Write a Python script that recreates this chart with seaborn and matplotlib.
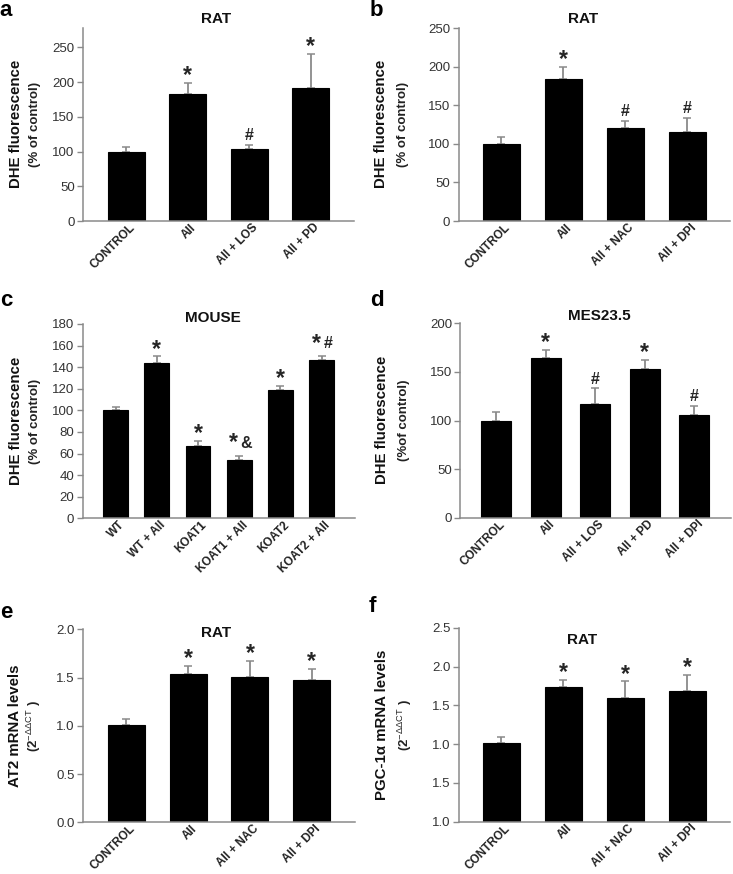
import numpy as np
import pandas as pd
import matplotlib
matplotlib.use("Agg")
import matplotlib.pyplot as plt
import matplotlib.transforms as mtrans
import seaborn as sns

sns.set_theme(style="white")
plt.rcParams["font.family"] = ["Liberation Sans", "DejaVu Sans"]
plt.rcParams["mathtext.fontset"] = "custom"
plt.rcParams["mathtext.rm"] = "Liberation Sans"
plt.rcParams["mathtext.it"] = "Liberation Sans:italic"
plt.rcParams["mathtext.bf"] = "Liberation Sans:bold"

# ---------------- data ----------------
a_labels = ["CONTROL", "AII", "AII + LOS", "AII + PD"]
a_values = [100, 183, 103, 191]
a_errtop = [106, 199, 110, 241]
a_marks = ["", "*", "#", "*"]

b_labels = ["CONTROL", "AII", "AII + NAC", "AII + DPI"]
b_values = [100, 184, 121, 115]
b_errtop = [109, 200, 130, 134]
b_marks = ["", "*", "#", "#"]

c_labels = ["WT", "WT + AII", "KOAT1", "KOAT1 + AII", "KOAT2", "KOAT2 + AII"]
c_values = [100, 144, 67, 54, 119, 147]
c_errtop = [103, 150, 72, 58, 122.5, 150.5]
c_marks = ["", "*", "*", "*&", "*", "*#"]

d_labels = ["CONTROL", "AII", "AII + LOS", "AII + PD", "AII + DPI"]
d_values = [100, 164, 117, 152.5, 105.5]
d_errtop = [109, 173, 133, 162.5, 115]
d_marks = ["", "*", "#", "*", "#"]

e_labels = ["CONTROL", "AII", "AII + NAC", "AII + DPI"]
e_values = [1.01, 1.54, 1.51, 1.47]
e_errtop = [1.07, 1.62, 1.67, 1.59]
e_marks = ["", "*", "*", "*"]

f_labels = ["CONTROL", "AII", "AII + NAC", "AII + DPI"]
f_values = [1.02, 1.74, 1.59, 1.68]
f_errtop = [1.09, 1.83, 1.81, 1.89]
f_marks = ["", "*", "*", "*"]
f_ticklabels = ["1.0", "1.5", "1.0", "1.5", "2.0", "2.5"]

# ---------------- layout ----------------
W, H = 733, 874
fig = plt.figure(figsize=(W / 100, H / 100), dpi=100)
fig.patch.set_facecolor("white")


def fx(x):
    return x / W


def fy(y):
    return 1 - y / H


def add_ax(l, t, r, b):
    return fig.add_axes([l / W, 1 - b / H, (r - l) / W, (b - t) / H])


GRAY = "#8a8a8a"


def draw(ax, labels, values, errtop, marks, ylim, yticks, xlim, ytlabels=None):
    df = pd.DataFrame({"group": labels, "value": values})
    sns.barplot(data=df, x="group", y="value", order=labels, color="black",
                saturation=1, width=0.6, errorbar=None, edgecolor="black",
                linewidth=0.8, ax=ax, zorder=2)
    x = np.arange(len(labels))
    vals = np.asarray(values, dtype=float)
    err = np.asarray(errtop, dtype=float) - vals
    ax.errorbar(x, vals, yerr=[np.zeros_like(err), err], fmt="none",
                ecolor=GRAY, elinewidth=1.3, capsize=2.6, capthick=1.1,
                zorder=1)
    for i, m in enumerate(marks):
        if not m:
            continue
        if len(m) == 1:
            if m == "*":
                ax.annotate("*", (x[i], errtop[i]), xytext=(0, 0.5),
                            textcoords="offset points", ha="center",
                            va="baseline", fontsize=16.5, fontweight="bold")
            else:
                ax.annotate(m, (x[i], errtop[i]), xytext=(0, 3.5),
                            textcoords="offset points", ha="center",
                            va="baseline", fontsize=11.5, fontweight="bold")
        else:
            ax.annotate("*", (x[i], errtop[i]), xytext=(-4.0, 4.5),
                        textcoords="offset points", ha="center",
                        va="baseline", fontsize=16.5, fontweight="bold")
            ax.annotate(m[1], (x[i], errtop[i]), xytext=(4.8, 5.5),
                        textcoords="offset points", ha="center",
                        va="baseline", fontsize=11.5, fontweight="bold")
    ax.set_ylim(*ylim)
    ax.set_xlim(*xlim)
    ax.set_yticks(yticks)
    if ytlabels is not None:
        ax.set_yticklabels(ytlabels)
    ax.set_xlabel("")
    ax.set_ylabel("")
    for s in ["top", "right"]:
        ax.spines[s].set_visible(False)
    for s in ["left", "bottom"]:
        ax.spines[s].set_color(GRAY)
        ax.spines[s].set_linewidth(1.1)
    ax.tick_params(axis="y", direction="out", length=4, width=1,
                   color=GRAY, labelsize=9.5, labelcolor="#333333", pad=2,
                   left=True)
    ax.tick_params(axis="x", length=0, pad=3.5, bottom=False)
    off = mtrans.ScaledTranslation(5 / 72, 0, fig.dpi_scale_trans)
    for lab in ax.get_xticklabels():
        lab.set_rotation(45)
        lab.set_ha("right")
        lab.set_va("center")
        lab.set_rotation_mode("anchor")
        lab.set_fontsize(8.5)
        lab.set_fontweight("bold")
        lab.set_color("#222222")
        lab.set_transform(lab.get_transform() + off)
    ax.grid(False)
    ax.set_facecolor("white")


def ylab(x1, x2, yc, line1, line2, s2=9.5):
    fig.text(fx(x1), fy(yc), line1, rotation=90, ha="center", va="center",
             fontsize=10.8, fontweight="bold", color="#111111")
    fig.text(fx(x2), fy(yc), line2, rotation=90, ha="center", va="center",
             fontsize=s2, fontweight="bold", color="#222222")


def title(x, y, s):
    fig.text(fx(x), fy(y), s, ha="center", va="center", fontsize=11,
             fontweight="bold", color="#111111")


def letter(x, y, s):
    fig.text(fx(x), fy(y), s, ha="center", va="center", fontsize=16,
             fontweight="bold", color="black")


# panel a
ax = add_ax(83, 28, 354, 221)
draw(ax, a_labels, a_values, a_errtop, a_marks, (0, 278),
     [0, 50, 100, 150, 200, 250], (-0.7, 3.7))
ylab(16, 35, 124, "DHE fluorescence", "(% of control)")
title(216, 19, "RAT")
letter(6, 11, "a")

# panel b
ax = add_ax(458.7, 28.3, 730, 221)
draw(ax, b_labels, b_values, b_errtop, b_marks, (0, 250),
     [0, 50, 100, 150, 200, 250], (-0.69, 3.69))
ylab(381, 403, 124, "DHE fluorescence", "(% of control)")
title(583, 19, "RAT")
letter(376, 10, "b")

# panel c
ax = add_ax(82.7, 324, 355, 518.3)
draw(ax, c_labels, c_values, c_errtop, c_marks, (0, 180),
     list(range(0, 181, 20)), (-0.8, 5.81))
ylab(16, 35, 421, "DHE fluorescence", "(% of control)")
title(213, 318, "MOUSE")
letter(6, 301, "c")

# panel d
ax = add_ax(460.3, 323.3, 731, 517.7)
draw(ax, d_labels, d_values, d_errtop, d_marks, (0, 200),
     [0, 50, 100, 150, 200], (-0.725, 4.74))
ylab(382, 404, 420, "DHE fluorescence", "(%of control)")
title(599, 316, "MES23.5")
letter(377, 301, "d")

# panel e
ax = add_ax(83, 629.3, 355, 822.3)
draw(ax, e_labels, e_values, e_errtop, e_marks, (0, 2.0),
     [0, 0.5, 1.0, 1.5, 2.0], (-0.7, 3.7))
ax.yaxis.set_major_formatter(matplotlib.ticker.FormatStrFormatter("%.1f"))
ylab(15, 34, 726, "AT2 mRNA levels", r"(2$^{\mathrm{-ΔΔCT}}$ )")
title(216, 633, "RAT")
letter(6, 613, "e")

# panel f
ax = add_ax(458.7, 627.7, 730, 821.7)
draw(ax, f_labels, f_values, f_errtop, f_marks, (0, 2.5),
     [0, 0.5, 1.0, 1.5, 2.0, 2.5], (-0.69, 3.69), ytlabels=f_ticklabels)
ylab(382, 405, 725, "PGC-1α mRNA levels", r"(2$^{\mathrm{-ΔΔCT}}$ )")
title(582, 640, "RAT")
letter(372, 607, "f")

fig.savefig("out.png", dpi=100, facecolor="white")
